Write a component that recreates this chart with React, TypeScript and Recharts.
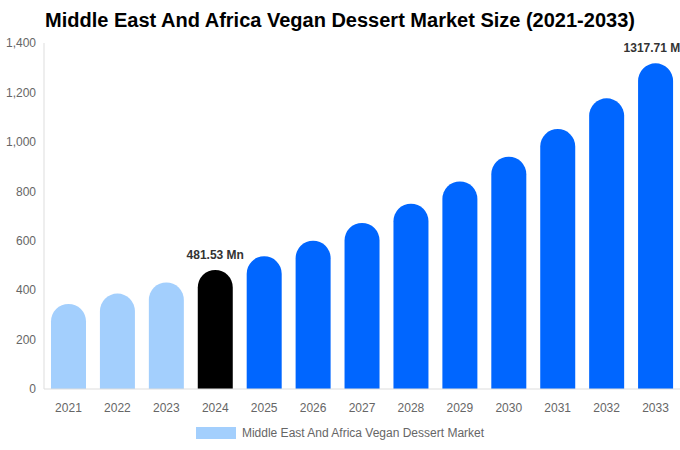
import { BarChart, Bar, XAxis, YAxis, Legend, Cell, LabelList } from "recharts";

const years = ["2021", "2022", "2023", "2024", "2025", "2026", "2027", "2028", "2029", "2030", "2031", "2032", "2033"];
const marketSize = [344, 386, 431, 481.53, 537, 600, 672, 750, 840, 940, 1052, 1176, 1317.71];
const yTicks = [0, 200, 400, 600, 800, 1000, 1200, 1400];
const labelledYears = ["2024", "2033"];

const data = years.map((year, i) => ({ year, value: marketSize[i] }));

const colorFor = (i: number) => (i < 3 ? "#a3cffd" : i === 3 ? "#000000" : "#0066ff");

const font = "'Liberation Sans', Arial, sans-serif";

function ValueLabel(props: any) {
  const { x, y, width, index } = props;
  if (!labelledYears.includes(years[index])) return null;
  return (
    <text
      x={x + width / 2}
      y={y - 11}
      textAnchor="middle"
      fontSize={12}
      fontWeight="bold"
      fill="#333"
      fontFamily={font}
    >
      {`${marketSize[index].toFixed(2)} Mn`}
    </text>
  );
}

export default function App() {
  return (
    <div style={{ position: "absolute", left: 0, top: 0, width: 680, height: 450, background: "#fff", fontFamily: font }}>
      <div
        style={{
          position: "absolute",
          top: 9,
          left: 0,
          width: 680,
          textAlign: "center",
          fontSize: 20,
          fontWeight: "bold",
          color: "#000",
        }}
      >
        Middle East And Africa Vegan Dessert Market Size (2021-2033)
      </div>
      <BarChart width={680} height={450} data={data} margin={{ top: 43, right: 0, bottom: 5, left: 0 }}>
        <XAxis
          dataKey="year"
          tickLine={false}
          axisLine={{ stroke: "#ddd" }}
          tick={{ fill: "#666", fontSize: 12, fontFamily: font }}
          height={30}
          tickMargin={8}
        />
        <YAxis
          width={44}
          domain={[0, 1400]}
          ticks={yTicks}
          tickLine={false}
          axisLine={{ stroke: "#ddd" }}
          tick={{ fill: "#666", fontSize: 12, fontFamily: font }}
          tickFormatter={(v: number) => v.toLocaleString("en-US")}
        />
        <Legend
          verticalAlign="bottom"
          height={26}
          content={() => (
            <div
              style={{
                display: "flex",
                justifyContent: "center",
                alignItems: "center",
                fontSize: 12,
                color: "#666",
                paddingTop: 7,
              }}
            >
              <span style={{ display: "inline-block", width: 40, height: 12, background: "#a3cffd", marginRight: 6 }} />
              Middle East And Africa Vegan Dessert Market
            </div>
          )}
        />
        <Bar dataKey="value" barSize={35} radius={[18, 18, 0, 0]} isAnimationActive={false}>
          {data.map((d, i) => (
            <Cell key={d.year} fill={colorFor(i)} />
          ))}
          <LabelList dataKey="value" content={ValueLabel} />
        </Bar>
      </BarChart>
    </div>
  );
}
